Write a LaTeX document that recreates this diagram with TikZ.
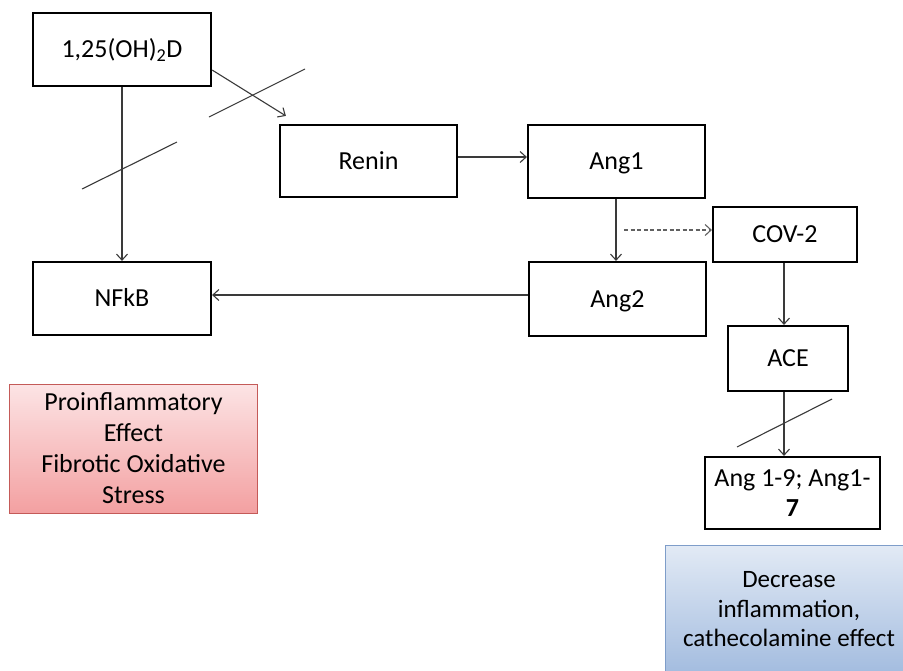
\documentclass[tikz,border=0pt]{standalone}
\usepackage{fontspec}
\setmainfont{Carlito}
\usetikzlibrary{arrows.meta,calc}
\definecolor{pinktop}{HTML}{FCE4E5}
\definecolor{pinkbot}{HTML}{F3A0A1}
\definecolor{pinkline}{HTML}{C45A58}
\definecolor{bluetop}{HTML}{E2EAF5}
\definecolor{bluebot}{HTML}{A3BCDF}
\definecolor{blueline}{HTML}{7E9DC9}
\definecolor{conn}{HTML}{3A3A3A}
\tikzset{
  box/.style={draw=black, line width=2.2pt, inner sep=0pt, align=center, font=\fontsize{26}{30}\selectfont},
  oneline/.style={text height=16.5pt, text depth=0pt},
  arr/.style={draw=conn, line width=1.1pt, -{Straight Barb[length=6pt,width=11pt,line width=1.1pt]}},
  dasharr/.style={draw=conn!80, line width=1.2pt, dash pattern=on 4pt off 2.5pt, -{Straight Barb[length=6pt,width=11pt,line width=1.1pt]}},
  crossline/.style={draw=conn, line width=1.1pt},
  effect/.style={inner sep=0pt, align=center, minimum width=248pt, minimum height=129pt}
}
\begin{document}
\begin{tikzpicture}[x=1pt,y=-1pt]
\useasboundingbox (0,0) rectangle (903,670);
\clip (0,0) rectangle (903,670);
\fill[white] (0,0) rectangle (903,670);

\node[box, oneline, minimum width=178pt, minimum height=73pt] (d) at (122,49.5) {1,25(OH)\textsubscript{2}D};
\node[box, oneline, minimum width=177pt, minimum height=72pt] (renin) at (368.5,161) {Renin};
\node[box, oneline, minimum width=177pt, minimum height=73pt] (ang1) at (616.5,161.5) {Ang1};
\node[box, oneline, minimum width=144pt, minimum height=55pt] (cov) at (785,234.5) {COV-2};
\node[box, oneline, minimum width=178pt, minimum height=73pt] (nfkb) at (122,298.5) {NFkB};
\node[box, oneline, minimum width=177pt, minimum height=74pt] (ang2) at (617.5,299) {Ang2};
\node[box, oneline, minimum width=120pt, minimum height=65pt] (ace) at (788,358.5) {ACE};
\node[box, minimum width=175pt, minimum height=72pt] (ang19) at (792.5,493) {Ang 1-9; Ang1-\\\textbf{7}};

\node[effect, font=\fontsize{26}{31}\selectfont, draw=pinkline, line width=1pt, top color=pinktop, bottom color=pinkbot] (pink) at (133.5,448.5)
  {Proinflammatory\\Effect\\Fibrotic Oxidative\\Stress};
\node[effect, font=\fontsize{25}{29.5}\selectfont, draw=blueline, line width=1pt, top color=bluetop, bottom color=bluebot] (blue) at (789,609.5)
  {Decrease\\inflammation,\\cathecolamine effect};

% connectors
\draw[arr] ([yshift=-20.5pt]d.east) -- ([xshift=7pt,yshift=8pt]renin.north west);
\draw[arr] (d.south) -- (nfkb.north);
\draw[arr] ([yshift=4pt]renin.east) -- ([yshift=4pt]renin.east -| ang1.west);
\draw[arr] ([xshift=-0.5pt]ang1.south) -- ([xshift=-0.5pt]ang1.south |- ang2.north);
\coordinate (dstart) at (624,230);
\draw[dasharr] (dstart) -- (dstart -| cov.west);
\draw[arr] ([xshift=-1pt]cov.south) -- ([xshift=-1pt]cov.south |- ace.north);
\draw[arr] ([yshift=4pt]ang2.west) -- ([yshift=4pt]ang2.west -| nfkb.east);
\draw[arr] ([xshift=-4pt]ace.south) -- ([xshift=-4pt]ace.south |- ang19.north);

% blocking strokes
\draw[crossline] (82,189) -- (177,142);
\draw[crossline] (209,117) -- (305,69);
\draw[crossline] (737,447) -- (832,399);
\end{tikzpicture}
\end{document}
